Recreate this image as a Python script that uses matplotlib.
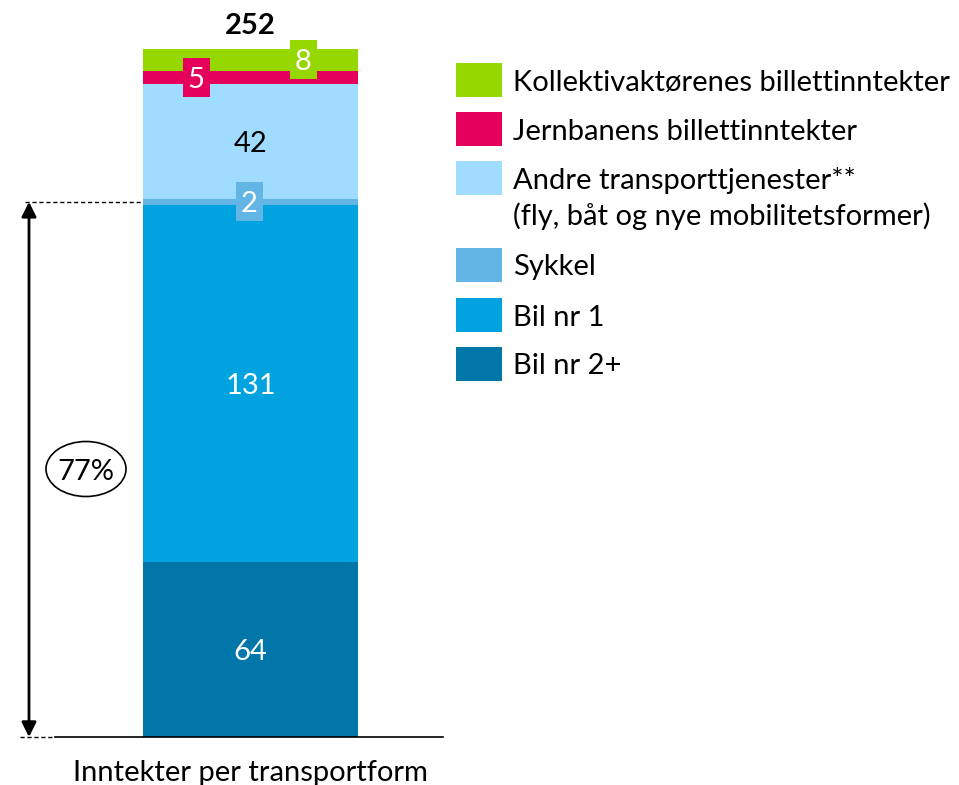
import matplotlib.pyplot as plt
from matplotlib.patches import Ellipse, Rectangle

plt.rcParams['font.family'] = ['Lato', 'DejaVu Sans']

# stacked from bottom to top
categories = ['Bil nr 2+', 'Bil nr 1', 'Sykkel',
              'Andre transporttjenester**\n(fly, båt og nye mobilitetsformer)',
              'Jernbanens billettinntekter', 'Kollektivaktørenes billettinntekter']
values = [64, 131, 2, 42, 5, 8]
colors = ['#0077A8', '#00A3E0', '#62B5E5', '#A0DCFF', '#E4005B', '#97D700']
label_colors = ['white', 'white', 'white', 'black', 'white', 'white']
bar_label = 'Inntekter per transportform'
share_label = '77%'

total = sum(values)
px_per_unit = 688 / total

fig = plt.figure(figsize=(9.59, 7.85), dpi=100)
ax = fig.add_axes([0, 0, 1, 1])
ax.set_xlim(0, 959)
ax.set_ylim(-48 / px_per_unit, 737 / px_per_unit)
ax.axis('off')

bar_x, bar_w = 250.5, 215
bottom = 0
for v, c in zip(values, colors):
    ax.bar(bar_x, v, width=bar_w, bottom=bottom, color=c, linewidth=0)
    bottom += v

# segment labels; small segments get a boxed label
box_x = [None, None, 249.5, None, 196, 303.5]
fs = 21
bottom = 0
for v, c, lc, bx in zip(values, colors, label_colors, box_x):
    mid = bottom + v / 2
    if bx is None:
        ax.text(bar_x, mid, str(v), ha='center', va='center_baseline',
                fontsize=fs, color=lc)
    else:
        bw, bh = 27, 39 / px_per_unit
        ax.add_patch(Rectangle((bx - bw / 2, mid - bh / 2), bw, bh, color=c, lw=0))
        ax.text(bx, mid, str(v), ha='center', va='center_baseline',
                fontsize=fs, color=lc)
    bottom += v

ax.text(bar_x, total + 9.5, str(total), ha='center', va='center_baseline',
        fontsize=fs, fontweight='bold')

# baseline
ax.plot([55, 443], [0, 0], color='black', lw=1.2)
ax.plot([20, 55], [0, 0], color='black', lw=1, ls=(0, (3, 2)))
top_auto = sum(values[:2]) + 1
ax.plot([25, 143], [top_auto, top_auto], color='black', lw=1, ls=(0, (3, 2)))

# double arrow
ax.annotate('', xy=(29, top_auto), xytext=(29, 0),
            arrowprops=dict(arrowstyle='<|-|>', color='black', lw=2,
                            mutation_scale=22, shrinkA=0, shrinkB=0))
ell_y = (737 - 469) / px_per_unit
ax.add_patch(Ellipse((86, ell_y), 80, 55 / px_per_unit, facecolor='white',
                     edgecolor='black', lw=1.2))
ax.text(86, ell_y, share_label, ha='center', va='center_baseline', fontsize=fs)

ax.text(bar_x, -33 / px_per_unit, bar_label, ha='center', va='center_baseline',
        fontsize=fs)

# legend drawn by hand
row_y = [364, 315, 265, 178, 129, 80]
for cat, c, y in zip(categories, colors, row_y):
    yc = (737 - y) / px_per_unit
    ax.add_patch(Rectangle((456, yc - 17 / px_per_unit), 46, 34 / px_per_unit,
                           color=c, lw=0))
    lines = cat.split('\n')
    for i, line in enumerate(lines):
        ax.text(513, yc - i * 36 / px_per_unit, line, ha='left',
                va='center_baseline', fontsize=fs)

fig.savefig('out.png', dpi=100)
